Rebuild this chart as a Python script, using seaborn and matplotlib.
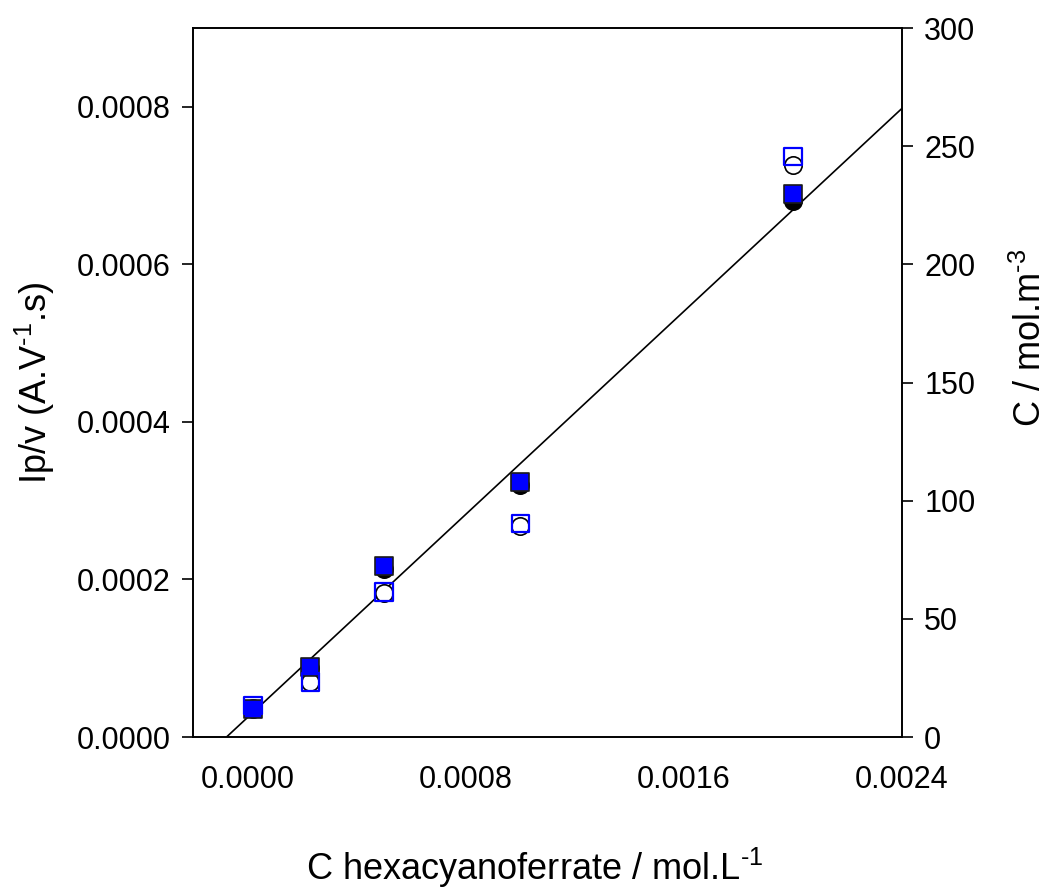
import matplotlib
matplotlib.use("Agg")
import matplotlib.pyplot as plt
import seaborn as sns
import pandas as pd

# ---- data ----
conc = [0.00002, 0.00023, 0.0005, 0.001, 0.002]
filled_circle = [0.000035, 0.000088, 0.000213, 0.000320, 0.000680]
open_circle = [0.000037, 0.000070, 0.000183, 0.000268, 0.000726]
filled_square = [0.000035, 0.000089, 0.000217, 0.000324, 0.000689]
open_square = [0.000040, 0.000070, 0.000184, 0.000271, 0.000737]
fit_x = [-0.000077, 0.0024]
fit_y = [0.0, 0.000798]

xticks = [0.0, 0.0008, 0.0016, 0.0024]
yticks = [0.0, 0.0002, 0.0004, 0.0006, 0.0008]
rticks = [0, 50, 100, 150, 200, 250, 300]

x_label = "C hexacyanoferrate / mol.L$^{\u20101}$"
y_label = "Ip/v (A.V$^{\u20101}$.s)"
r_label = "C / mol.m$^{\u20103}$"

sns.set_style("white")
plt.rcParams['font.family'] = ['Liberation Sans', 'DejaVu Sans']
plt.rcParams['mathtext.fontset'] = 'custom'
plt.rcParams['mathtext.rm'] = 'Liberation Sans'
plt.rcParams['mathtext.it'] = 'Liberation Sans:italic'
plt.rcParams['mathtext.bf'] = 'Liberation Sans:bold'
plt.rcParams['mathtext.default'] = 'regular'
plt.rcParams['text.color'] = 'black'

W, H = 1054, 888
fig = plt.figure(figsize=(W / 100, H / 100), dpi=100)
ax = fig.add_axes([193 / W, 1 - 737 / H, 709 / W, 709 / H])

ms = 12.5
df = pd.DataFrame({"x": conc, "fc": filled_circle, "oc": open_circle,
                   "fs": filled_square, "os": open_square})

sns.lineplot(x=fit_x, y=fit_y, ax=ax, color="black", linewidth=1.2, zorder=2)
sns.scatterplot(data=df, x="x", y="fc", ax=ax, marker="o", s=ms**2,
                color="black", edgecolor="black", linewidth=1.2, zorder=3)
sns.scatterplot(data=df, x="x", y="oc", ax=ax, marker="o", s=ms**2,
                facecolor="white", edgecolor="black", linewidth=1.2, zorder=3)
sns.scatterplot(data=df, x="x", y="fs", ax=ax, marker="s", s=ms**2,
                color="#0000ff", edgecolor="#1a1a1a", linewidth=1.2, zorder=4)
sns.scatterplot(data=df, x="x", y="os", ax=ax, marker="s", s=ms**2,
                facecolor="none", edgecolor="#0000ff", linewidth=1.6, zorder=5)

ax.set_xlim(-0.0002, 0.0024)
ax.set_ylim(0, 0.0009)
ax.set_xticks(xticks)
ax.set_xticklabels([f"{v:.4f}" for v in xticks])
ax.set_yticks(yticks)
ax.set_yticklabels([f"{v:.4f}" for v in yticks])
ax.tick_params(axis='both', direction='out', length=8, width=1.2,
               labelsize=22, pad=8, colors='black')
ax.tick_params(axis='x', pad=12)
ax.set_xlabel("")
ax.set_ylabel("")
for sp in ax.spines.values():
    sp.set_visible(True)
    sp.set_color("black")
    sp.set_linewidth(1.2)

ax2 = ax.twinx()
ax2.set_ylim(0, 300)
ax2.set_yticks(rticks)
ax2.set_yticklabels([str(v) for v in rticks])
ax2.tick_params(axis='y', direction='out', length=8, width=1.2,
                labelsize=22, pad=8, colors='black')
for sp in ax2.spines.values():
    sp.set_color("black")
    sp.set_linewidth(1.2)

fig.text(535 / W, 1 - 880 / H, x_label, fontsize=26, ha='center',
         va='baseline', color='black')
fig.text(35 / W, 1 - 383 / H, y_label, fontsize=26, ha='center',
         va='center', rotation=90, color='black')
fig.text(1031 / W, 1 - 338 / H, r_label, fontsize=26, ha='center',
         va='center', rotation=90, color='black')

fig.savefig("out.png", dpi=100)
